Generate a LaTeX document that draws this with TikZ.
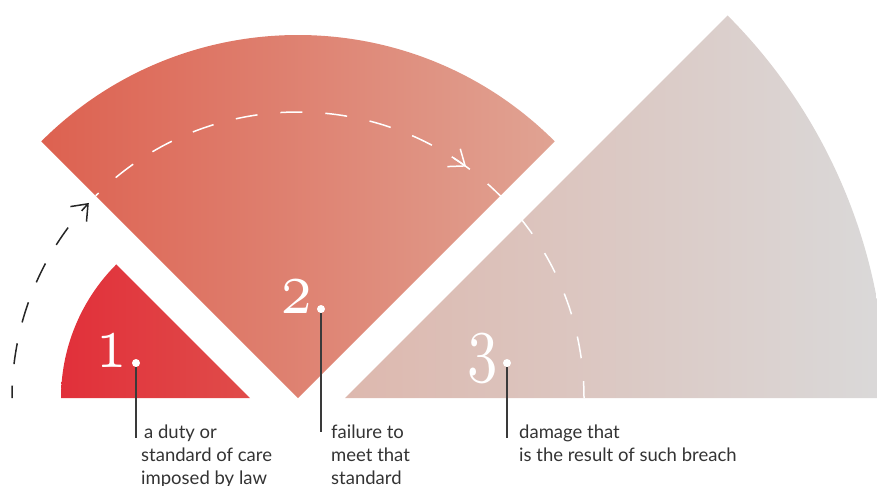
\documentclass[tikz,border=0pt]{standalone}
\usepackage{fontspec}
\usepackage{graphicx}
\setsansfont{Lato}
\usetikzlibrary{arrows.meta,calc}

\definecolor{oneL}{HTML}{E1303A}
\definecolor{oneR}{HTML}{E04C4A}
\definecolor{twoL}{HTML}{DD6150}
\definecolor{twoR}{HTML}{E0A393}
\definecolor{threeL}{HTML}{DDB8AE}
\definecolor{threeR}{HTML}{DAD9D9}
\definecolor{leadgray}{HTML}{3A3A3A}
\definecolor{labgray}{HTML}{333333}

% 旧式数字：cmmi10 任意缩放
\DeclareFontFamily{OML}{oldnum}{\skewchar\font127 }
\DeclareFontShape{OML}{oldnum}{m}{it}{<-> cmmi10}{}
\newcommand\stepnum[1]{\scalebox{0.8}[1]{\fontencoding{OML}\fontfamily{oldnum}%
  \fontseries{m}\fontshape{it}\fontsize{76}{76}\selectfont #1}}

\begin{document}
\begin{tikzpicture}[x=1pt, y=-1pt,
  dot/.style={circle, fill=white, inner sep=0pt, minimum size=8pt},
  leader/.style={draw=leadgray, line width=1.2pt},
  lbl/.style={anchor=north west, inner sep=0pt, align=left, text=labgray,
    font=\sffamily\fontsize{18.5}{23}\selectfont},
  numlbl/.style={anchor=base east, inner sep=0pt, text=white},
  arcdash/.style={line width=1.5pt, dash pattern=on 22pt off 23pt},
  barb/.style={-{Straight Barb[length=14pt, width=22pt]}}]

  %% ════ 扇形中心 ════
  \coordinate (c1) at (250,398);
  \coordinate (c2) at (298,398);
  \coordinate (c3) at (345,398);

  %% ════ 三个扇形（渐变填充）════
  \shade[left color=oneL, right color=oneR]
    (c1) -- ++(225:189) arc[start angle=225, end angle=180, radius=189] -- cycle;
  \shade[left color=twoL, right color=twoR]
    (c2) -- ++(225:363) arc[start angle=225, end angle=315, radius=363] -- cycle;
  \shade[left color=threeL, right color=threeR]
    (c3) -- ++(0:541) arc[start angle=0, end angle=-45, radius=541] -- cycle;

  %% ════ 虚线圆弧 ════
  \draw[arcdash, black!85, dash pattern=on 21pt off 21.5pt, dash phase=8.5pt, barb]
    ($(c2)+(180:286)$) arc[start angle=180, end angle=223, radius=286];
  \draw[arcdash, white, dash phase=18pt]
    ($(c2)+(225:286)$) arc[start angle=225, end angle=360, radius=286];
  \draw[line width=1.5pt, white, barb]
    ($(c2)+(303:286)$) arc[start angle=303, end angle=306, radius=286];

  %% ════ 编号与引线 ════
  \node[dot] (d1) at (136,363) {};
  \node[dot] (d2) at (321,309) {};
  \node[dot] (d3) at (507,363) {};
  \node[numlbl] (n1) at ($(d1)+(-9,4)$) {\stepnum{1}};
  \node[numlbl] (n2) at ($(d2)+(-9,4)$) {\stepnum{2}};
  \node[numlbl] (n3) at ($(d3)+(-9,4)$) {\stepnum{3}};
  \coordinate (e1) at (136,438);
  \coordinate (e2) at (321,432);
  \coordinate (e3) at (507,438);
  \draw[leader] (d1) -- (e1);
  \draw[leader] (d2) -- (e2);
  \draw[leader] (d3) -- (e3);

  %% ════ 标签 ════
  \node[lbl] (t1) at (141,424.6) {\hspace{3pt}a duty or\\standard of care\\imposed by law};
  \node[lbl] (t2) at (331,424.6) {failure to\\meet that\\standard};
  \node[lbl] (t3) at (519,424.6) {damage that\\is the result of such breach};

  % 钉死画布
  \pgfresetboundingbox
  \path[use as bounding box] (0,0) rectangle (877,485);
\end{tikzpicture}
\end{document}
